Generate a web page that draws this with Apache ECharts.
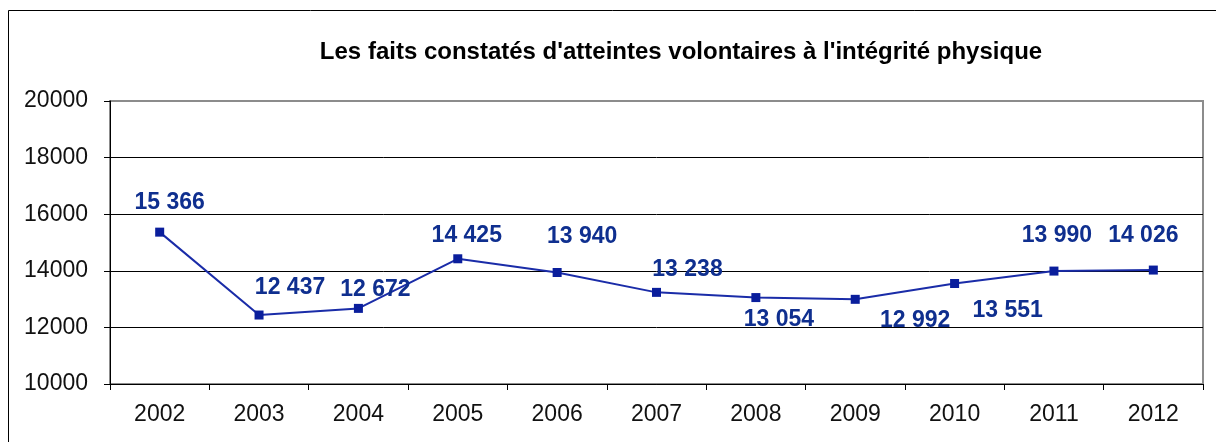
<!DOCTYPE html>
<html>
<head>
<meta charset="utf-8">
<script src="https://cdn.jsdelivr.net/npm/echarts@6/dist/echarts.min.js"></script>
<style>
  html, body { margin: 0; padding: 0; background: #fff; }
  #chart { width: 1216px; height: 442px; }
</style>
</head>
<body>
<div id="chart"></div>
<script>
// données
let years = ['2002', '2003', '2004', '2005', '2006', '2007', '2008', '2009', '2010', '2011', '2012']
let faits = [15366, 12437, 12672, 14425, 13940, 13238, 13054, 12992, 13551, 13990, 14026]
let yTicks = [10000, 12000, 14000, 16000, 18000, 20000]

// décalage des étiquettes par rapport au point (en px)
let labelOffsets = [
  [10, -29], [31, -27], [17, -19], [9, -23], [25, -36], [31, -23],
  [23, 22], [60, 21], [53, 27], [3, -35], [-10, -34]
]

let fmt = function (v) {
  return String(v).replace(/\B(?=(\d{3})+(?!\d))/g, ' ')
}

let chart = echarts.init(document.getElementById('chart'))

let option = {
  backgroundColor: '#fff',
  animation: false,
  textStyle: { fontFamily: 'Liberation Sans' },
  title: {
    text: "Les faits constatés d'atteintes volontaires à l'intégrité physique",
    left: 676,
    textAlign: 'center',
    top: 35,
    textStyle: { fontSize: 24, fontWeight: 'bold', color: '#000', fontFamily: 'Liberation Sans' }
  },
  graphic: [
    {
      type: 'rect',
      shape: { x: 8.5, y: 10.5, width: 1230, height: 460 },
      style: { fill: 'none', stroke: '#000', lineWidth: 1 },
      silent: true
    }
  ],
  grid: {
    left: 110,
    right: 13,
    top: 101,
    bottom: 58,
    show: true,
    borderColor: '#8c8c8c',
    borderWidth: 2
  },
  xAxis: {
    type: 'category',
    data: years,
    boundaryGap: true,
    axisLine: { lineStyle: { color: '#000', width: 1 } },
    axisTick: { show: true, alignWithLabel: false, length: 6, lineStyle: { color: '#000' } },
    axisLabel: { margin: 19, fontSize: 23, color: '#111', fontFamily: 'Liberation Sans' }
  },
  yAxis: {
    type: 'value',
    min: yTicks[0],
    max: yTicks[yTicks.length - 1],
    interval: 2000,
    axisLine: { show: true, lineStyle: { color: '#000', width: 1 } },
    axisTick: { show: true, length: 6, lineStyle: { color: '#000' } },
    axisLabel: {
      margin: 22,
      fontSize: 23,
      color: '#111',
      fontFamily: 'Liberation Sans',
      formatter: function (v) {
        return String(v)
      }
    },
    splitLine: {
      show: true,
      lineStyle: { color: ['#000', '#000', '#000', '#000', '#000', '#8c8c8c'], width: 1 }
    }
  },
  series: [
    {
      type: 'line',
      data: faits.map(function (v, i) {
        return {
          value: v,
          label: { offset: labelOffsets[i] }
        }
      }),
      symbol: 'rect',
      symbolSize: 9,
      lineStyle: { color: '#1a2ca8', width: 2 },
      itemStyle: { color: '#0a1e9c' },
      label: {
        show: true,
        position: 'inside',
        align: 'center',
        verticalAlign: 'middle',
        fontSize: 23,
        fontWeight: 'bold',
        color: '#0f2f8f',
        fontFamily: 'Liberation Sans',
        formatter: function (p) {
          return fmt(p.value)
        }
      }
    }
  ]
}

chart.setOption(option)
</script>
</body>
</html>
